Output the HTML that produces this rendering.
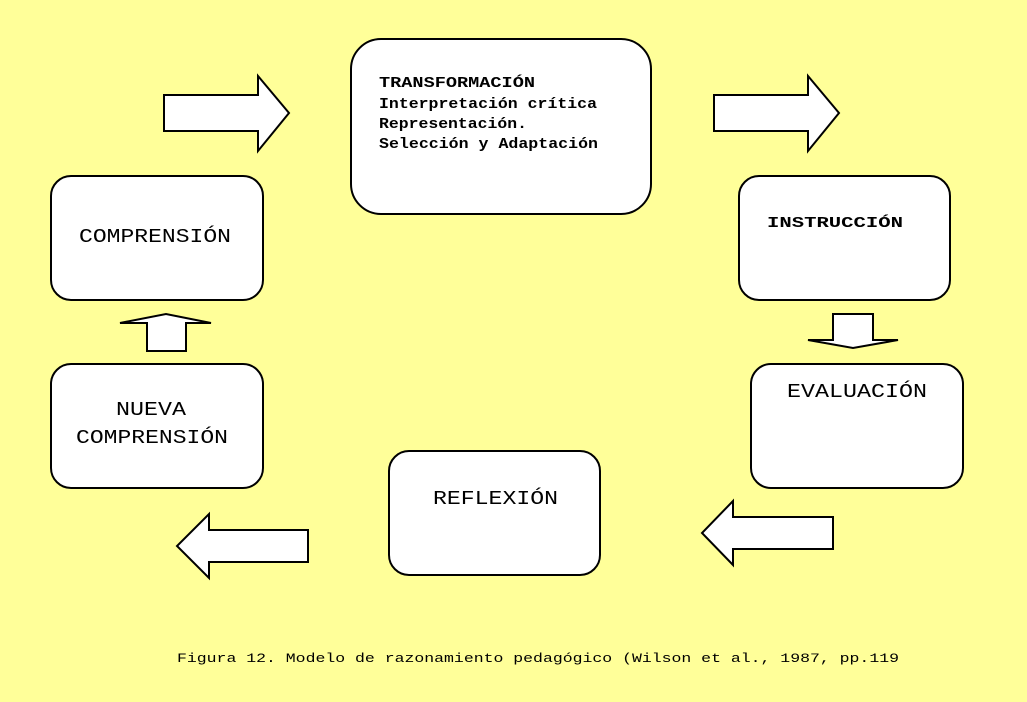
<!DOCTYPE html>
<html><head><meta charset="utf-8"><style>
html,body{margin:0;padding:0;background:#ffff99}
svg{display:block}
text{font-family:"Liberation Mono","DejaVu Sans Mono",monospace;fill:#000}
</style></head><body>
<svg width="1027" height="702" viewBox="0 0 1027 702">
<rect x="0" y="0" width="1027" height="702" fill="#ffff99"/>
<g fill="#fff" stroke="#000" stroke-width="2">
<rect x="351" y="39" width="300" height="175" rx="30"/>
<rect x="51" y="176" width="212" height="124" rx="20"/>
<rect x="739" y="176" width="211" height="124" rx="20"/>
<rect x="751" y="364" width="212" height="124" rx="20"/>
<rect x="389" y="451" width="211" height="124" rx="20"/>
<rect x="51" y="364" width="212" height="124" rx="20"/>
<polygon points="164,95 258,95 258,76 289,113 258,151 258,131 164,131"/>
<polygon points="714,95 808,95 808,76 839,113 808,151 808,131 714,131"/>
<polygon points="833,314 873,314 873,340 898,340 853,348 808,340 833,340"/>
<polygon points="147,351 186,351 186,323 211,323 166,314 120,323 147,323"/>
<polygon points="833,517 733,517 733,501 702,533 733,565 733,549 833,549"/>
<polygon points="308,530 209,530 209,514 177,546 209,578 209,562 308,562"/>
</g>
<g font-weight="bold" font-size="15">
<text x="379" y="87" textLength="156" lengthAdjust="spacingAndGlyphs">TRANSFORMACIÓN</text>
<text x="379" y="108" textLength="218" lengthAdjust="spacingAndGlyphs">Interpretación crítica</text>
<text x="379" y="128" textLength="148" lengthAdjust="spacingAndGlyphs">Representación.</text>
<text x="379" y="148" textLength="219" lengthAdjust="spacingAndGlyphs">Selección y Adaptación</text>
<text x="767" y="227" textLength="136" lengthAdjust="spacingAndGlyphs">INSTRUCCIÓN</text>
</g>
<g font-size="19">
<text x="79" y="242" textLength="152" lengthAdjust="spacingAndGlyphs">COMPRENSIÓN</text>
<text x="787" y="397" textLength="140" lengthAdjust="spacingAndGlyphs">EVALUACIÓN</text>
<text x="433" y="504" textLength="125" lengthAdjust="spacingAndGlyphs">REFLEXIÓN</text>
<text x="116" y="415" textLength="70" lengthAdjust="spacingAndGlyphs">NUEVA</text>
<text x="76" y="443" textLength="152" lengthAdjust="spacingAndGlyphs">COMPRENSIÓN</text>
</g>
<text x="177" y="662" font-size="13" textLength="722" lengthAdjust="spacingAndGlyphs">Figura 12. Modelo de razonamiento pedagógico (Wilson et al., 1987, pp.119</text>
</svg>
</body></html>
